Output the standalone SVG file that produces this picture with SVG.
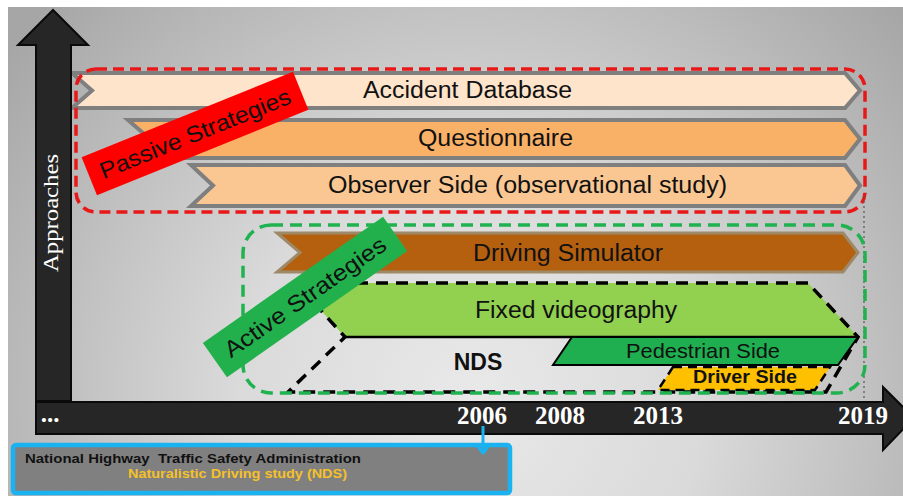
<svg xmlns="http://www.w3.org/2000/svg" width="903" height="496" viewBox="0 0 903 496">
<defs>
<radialGradient id="bg" gradientUnits="userSpaceOnUse" cx="470" cy="400" r="580">
<stop offset="0" stop-color="#e9e9e9"/>
<stop offset="0.4" stop-color="#dadada"/>
<stop offset="1" stop-color="#a6a6a6"/>
</radialGradient>
<style>
.band{font-family:"Liberation Sans",Arial,sans-serif;font-size:23px;fill:#111;text-anchor:middle}
.yr{font-family:"Liberation Serif","Times New Roman",serif;font-size:25px;font-weight:bold;fill:#fff;text-anchor:middle}
.axis{fill:#262626;stroke:#0a0a0a;stroke-width:2;stroke-linejoin:miter}
.gray{stroke:#7f7f7f;stroke-width:4;stroke-linejoin:miter}
.lbl{font-family:"Liberation Sans",Arial,sans-serif;font-size:23px;fill:#111;text-anchor:middle}
</style>
</defs>
<rect x="0" y="0" width="903" height="496" fill="#ffffff"/>
<rect x="8" y="7" width="895" height="489" fill="url(#bg)"/>

<g id="passive-bands">
<g id="accident-database">
<polygon class="gray" fill="#fde4cb" points="72,73 845,73 860,90.5 845,108 72,108 92,90.5"/>
<text class="band" x="467.5" y="98" textLength="209" lengthAdjust="spacingAndGlyphs">Accident Database</text>
</g>
<g id="questionnaire">
<polygon class="gray" fill="#f9b167" points="128,120 845,120 860,139 845,158 128,158 150,139"/>
<text class="band" x="495.5" y="146" textLength="155" lengthAdjust="spacingAndGlyphs">Questionnaire</text>
</g>
<g id="observer-side">
<polygon class="gray" fill="#fac793" points="191,165 845,165 860,185.5 845,206 191,206 213,185.5"/>
<text class="band" x="527.5" y="193" textLength="399" lengthAdjust="spacingAndGlyphs">Observer Side (observational study)</text>
</g>
</g>

<g id="passive-box">
<rect x="76" y="69" width="789" height="143" rx="20" fill="none" stroke="#e81818" stroke-width="3.5" stroke-dasharray="11 6"/>
</g>

<g id="passive-label" transform="translate(195,133.5) rotate(-22)">
<rect x="-114" y="-20.5" width="228" height="41" fill="#ff0000"/>
<text class="lbl" x="0" y="8" textLength="204" lengthAdjust="spacingAndGlyphs">Passive Strategies</text>
</g>

<line x1="864" y1="196" x2="864" y2="400" stroke="#555" stroke-width="1.2" stroke-dasharray="2 3"/>

<g id="active-bands">
<g id="driving-simulator">
<polygon fill="#b5600f" stroke="#9e8a68" stroke-width="3" points="277,233 843,233 858,252.5 843,272 277,272 300,252.5"/>
<text class="band" x="568" y="261" textLength="190" lengthAdjust="spacingAndGlyphs">Driving Simulator</text>
</g>
<g id="nds">
<polygon fill="#92d050" points="296,283 808,283 858,337 345,337"/>
<line x1="345" y1="337" x2="858" y2="337" stroke="#000" stroke-width="2.5"/>
<polygon fill="none" stroke="#000" stroke-width="3.5" stroke-dasharray="12 8" points="296,283 808,283 858,337 826,392 288,392 345,337"/>
<text class="band" x="576" y="318" textLength="202" lengthAdjust="spacingAndGlyphs">Fixed videography</text>
<text x="478" y="370" font-family="'Liberation Sans',Arial,sans-serif" font-size="23" font-weight="bold" fill="#111" text-anchor="middle">NDS</text>
</g>
<g id="pedestrian-side">
<polygon fill="#1fae50" stroke="#000" stroke-width="2" points="572,337 858,337 838,365 553,365"/>
<text x="703" y="358" font-family="'Liberation Sans',Arial,sans-serif" font-size="21" fill="#111" text-anchor="middle" textLength="154" lengthAdjust="spacingAndGlyphs">Pedestrian Side</text>
</g>
<g id="driver-side">
<polygon fill="#ffc000" stroke="#000" stroke-width="2.5" stroke-dasharray="9 6" points="673,367 830,367 815,390 658,390"/>
<text x="745" y="383" font-family="'Liberation Sans',Arial,sans-serif" font-size="18" font-weight="bold" fill="#111" text-anchor="middle" textLength="104" lengthAdjust="spacingAndGlyphs">Driver Side</text>
</g>
</g>

<g id="active-box">
<rect x="243" y="225" width="622" height="168" rx="28" fill="none" stroke="#1fb24f" stroke-width="3.5" stroke-dasharray="12 7"/>
</g>

<g id="active-label" transform="translate(305,297) rotate(-35)">
<rect x="-110" y="-21" width="220" height="42" fill="#22b04c"/>
<text class="lbl" x="0" y="8" textLength="192" lengthAdjust="spacingAndGlyphs">Active Strategies</text>
</g>

<g id="y-axis">
<polygon class="axis" points="36,401 36,45 18,45 53,10 88,45 71,45 71,401"/>
<text transform="translate(58,213) rotate(-90)" font-family="'Liberation Serif','Times New Roman',serif" font-size="22" fill="#fff" text-anchor="middle" textLength="118" lengthAdjust="spacingAndGlyphs">Approaches</text>
</g>

<g id="x-axis">
<polygon class="axis" points="36,402 883,402 883,387 914,418 883,450 883,434 36,434"/>
<text class="yr" x="50" y="422" text-anchor="start">...</text>
<text class="yr" x="482" y="424">2006</text>
<text class="yr" x="560" y="424">2008</text>
<text class="yr" x="658" y="424">2013</text>
<text class="yr" x="863" y="424">2019</text>
</g>

<g id="nhtsa">
<rect x="13" y="445" width="497" height="48" rx="3" fill="#808080" stroke="#1ab2f0" stroke-width="4.5"/>
<text x="25" y="463" font-family="'Liberation Sans',Arial,sans-serif" font-size="13.5" font-weight="bold" fill="#111" textLength="336" lengthAdjust="spacingAndGlyphs">National Highway&#160; Traffic Safety Administration</text>
<text x="237.5" y="478" font-family="'Liberation Sans',Arial,sans-serif" font-size="12.5" font-weight="bold" fill="#f5c02a" text-anchor="middle" textLength="219" lengthAdjust="spacingAndGlyphs">Naturalistic Driving study (NDS)</text>
</g>

<g id="connectors">
<line x1="483" y1="426" x2="483" y2="453" stroke="#1ab2f0" stroke-width="3"/>
<polyline points="476,444 483,453 490,444" fill="none" stroke="#1ab2f0" stroke-width="3" stroke-linejoin="round"/>
</g>
</svg>
